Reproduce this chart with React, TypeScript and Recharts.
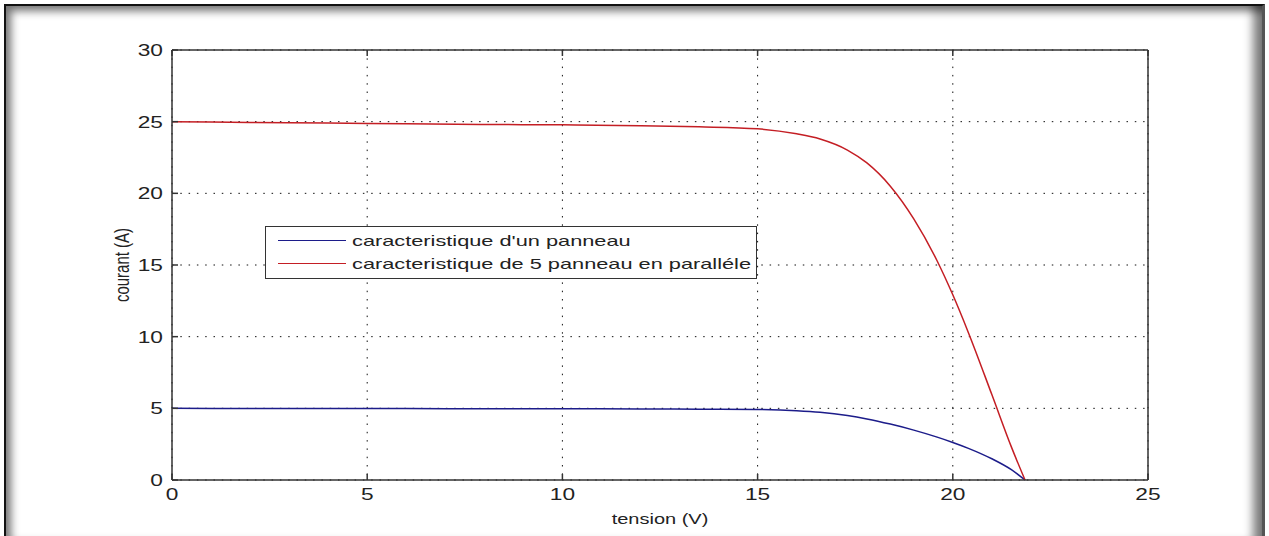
import React from 'react';
import { LineChart, Line, XAxis, YAxis, CartesianGrid, Legend, Label } from 'recharts';

// tension (V) sampled along the curves
const tension = [0, 2, 4, 6, 8, 10, 12, 13.5, 15, 16, 16.6, 17.3, 17.8, 18.4, 19, 19.6, 20, 20.4, 21, 21.5, 21.85];
// courant (A) - one panel
const unPanneau = [5, 4.99, 4.99, 4.98, 4.97, 4.97, 4.96, 4.94, 4.92, 4.84, 4.73, 4.5, 4.26, 3.9, 3.48, 2.99, 2.62, 2.21, 1.48, 0.72, 0];
// courant (A) - 5 panels in parallel
const cinqPanneaux = [25, 24.95, 24.9, 24.85, 24.8, 24.78, 24.72, 24.64, 24.5, 24.15, 23.79, 23.02, 22.12, 20.5, 18.22, 15.28, 12.92, 10.28, 5.96, 2.31, 0];

const xTicks = [0, 5, 10, 15, 20, 25];
const yTicks = [0, 5, 10, 15, 20, 25, 30];

const data = tension.map((v, i) => ({ tension: v, un: unPanneau[i], cinq: cinqPanneaux[i] }));

const FONT = '"Liberation Sans", Arial, sans-serif';
const STRETCH = 1.42;
const AXIS = '#333';

const BottomTick = (props: any) => {
  const { x, y, payload } = props;
  return (
    <g>
      <line x1={x} y1={y} x2={x} y2={y - 6} stroke={AXIS} strokeWidth={1.5} />
      <text transform={`translate(${x},${y + 20}) scale(${STRETCH},1)`} textAnchor="middle" fontSize={16} fontFamily={FONT} fill="#222">
        {payload.value}
      </text>
    </g>
  );
};

const TopTick = (props: any) => {
  const { x, y } = props;
  return <line x1={x} y1={y} x2={x} y2={y + 6} stroke={AXIS} strokeWidth={1.5} />;
};

const LeftTick = (props: any) => {
  const { x, y, payload } = props;
  return (
    <g>
      <line x1={x} y1={y} x2={x + 6} y2={y} stroke={AXIS} strokeWidth={1.5} />
      <text transform={`translate(${x - 9},${y + 6}) scale(${STRETCH},1)`} textAnchor="end" fontSize={16} fontFamily={FONT} fill="#222">
        {payload.value}
      </text>
    </g>
  );
};

const RightTick = (props: any) => {
  const { x, y } = props;
  return <line x1={x} y1={y} x2={x - 6} y2={y} stroke={AXIS} strokeWidth={1.5} />;
};

const renderLegend = (props: any) => {
  const { payload } = props;
  return (
    <div
      style={{
        width: 490,
        height: 49,
        border: '1px solid #333',
        background: '#fff',
        boxSizing: 'content-box',
        paddingTop: 2,
      }}
    >
      {payload.map((entry: any) => (
        <div key={entry.value} style={{ display: 'flex', alignItems: 'center', height: 23, whiteSpace: 'nowrap' }}>
          <div style={{ marginLeft: 12, width: 68, height: 1.5, background: entry.color }} />
          <span
            style={{
              display: 'inline-block',
              marginLeft: 6,
              fontFamily: FONT,
              fontSize: 15,
              color: '#222',
              transform: `scaleX(1.45)`,
              transformOrigin: 'left center',
            }}
          >
            {entry.value}
          </span>
        </div>
      ))}
    </div>
  );
};

const App = () => {
  return (
    <div style={{ position: 'fixed', left: 0, top: 0, width: 1269, height: 536, background: '#fff', overflow: 'hidden' }}>
      <div
        style={{
          position: 'absolute',
          left: 4,
          top: 4,
          width: 1256,
          height: 545,
          borderTop: '2px solid #111',
          borderLeft: '2px solid #111',
          borderRight: '3px solid #555',
          boxShadow: 'inset 5px 5px 9px rgba(0,0,0,0.55), inset -9px -8px 10px rgba(0,0,0,0.5)',
        }}
      />
      <div style={{ position: 'absolute', left: 0, top: 0 }}>
        <LineChart width={1269} height={536} data={data} margin={{ top: 40, right: 111, bottom: 16, left: 112 }}>
          <CartesianGrid stroke="#111" strokeWidth={1} strokeDasharray="1.5 6.8" />
          <XAxis
            dataKey="tension"
            type="number"
            domain={[0, 25]}
            ticks={xTicks}
            height={40}
            tickSize={0}
            tickMargin={0}
            tickLine={false}
            tick={<BottomTick />}
            axisLine={{ stroke: AXIS, strokeWidth: 1.5 }}
            interval={0}
          >
            <Label
              content={(p: any) => {
                const vb = p.viewBox;
                return (
                  <text
                    transform={`translate(${vb.x + vb.width / 2},${vb.y + 44}) scale(1.38,1)`}
                    textAnchor="middle"
                    fontSize={14.5}
                    fontFamily={FONT}
                    fill="#222"
                  >
                    tension (V)
                  </text>
                );
              }}
            />
          </XAxis>
          <XAxis
            xAxisId="top"
            orientation="top"
            type="number"
            dataKey="tension"
            domain={[0, 25]}
            ticks={xTicks}
            height={10}
            tickSize={0}
            tickMargin={0}
            tickLine={false}
            tick={<TopTick />}
            axisLine={{ stroke: AXIS, strokeWidth: 1.5 }}
            interval={0}
          />
          <YAxis
            type="number"
            domain={[0, 30]}
            ticks={yTicks}
            width={60}
            tickSize={0}
            tickMargin={0}
            tickLine={false}
            tick={<LeftTick />}
            axisLine={{ stroke: AXIS, strokeWidth: 1.5 }}
            interval={0}
          >
            <Label
              content={(p: any) => {
                const vb = p.viewBox;
                return (
                  <text
                    transform={`translate(${vb.x + 17},${vb.y + vb.height / 2}) rotate(-90) scale(1,1.3)`}
                    textAnchor="middle"
                    fontSize={15}
                    fontFamily={FONT}
                    fill="#222"
                  >
                    courant (A)
                  </text>
                );
              }}
            />
          </YAxis>
          <YAxis
            yAxisId="right"
            orientation="right"
            type="number"
            domain={[0, 30]}
            ticks={yTicks}
            width={10}
            tickSize={0}
            tickMargin={0}
            tickLine={false}
            tick={<RightTick />}
            axisLine={{ stroke: AXIS, strokeWidth: 1.5 }}
            interval={0}
          />
          <Legend
            layout="vertical"
            align="center"
            verticalAlign="middle"
            content={renderLegend}
            wrapperStyle={{ left: 265, top: 226, width: 494 }}
          />
          <Line
            name="caracteristique d'un panneau"
            dataKey="un"
            type="monotone"
            stroke="#1c1c8a"
            strokeWidth={1.5}
            dot={false}
            isAnimationActive={false}
          />
          <Line
            name="caracteristique de 5 panneau en paralléle"
            dataKey="cinq"
            type="monotone"
            stroke="#c41e24"
            strokeWidth={1.5}
            dot={false}
            isAnimationActive={false}
          />
        </LineChart>
      </div>
    </div>
  );
};

export default App;
